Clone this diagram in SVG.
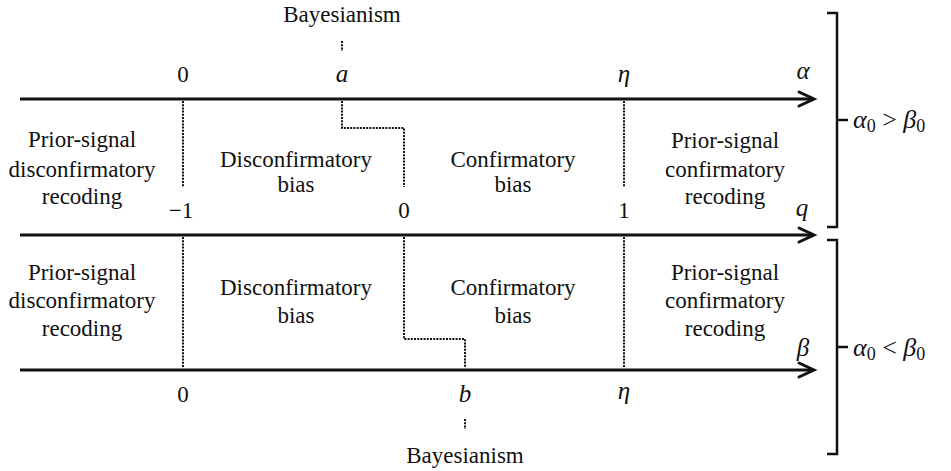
<svg xmlns="http://www.w3.org/2000/svg" width="951" height="471" viewBox="0 0 951 471">
  <defs>
    <style>
      text { font-family: "Liberation Serif", "DejaVu Serif", serif; font-size: 23px; fill: #111; text-anchor: middle; }
      .m { font-style: italic; font-size: 25px; }
      .axis { stroke: #111; stroke-width: 3; fill: none; }
      .head { stroke: #111; stroke-width: 3; fill: none; stroke-linecap: round; stroke-linejoin: miter; }
      .dot { stroke: #111; stroke-width: 2; fill: none; stroke-dasharray: 2 1.2; }
      .brace { stroke: #111; stroke-width: 2.5; fill: none; }
      .cond { font-size: 26px; text-anchor: start; }
      .sub { font-size: 18px; font-style: normal; }
    </style>
  </defs>

  <!-- axes with open arrowheads -->
  <g id="connectors">
    <line class="axis" x1="20" y1="99" x2="813" y2="99"/>
    <polyline class="head" points="799,92 814,99 799,106"/>
    <line class="axis" x1="20" y1="235" x2="813" y2="235"/>
    <polyline class="head" points="799,228 814,235 799,242"/>
    <line class="axis" x1="20" y1="370" x2="813" y2="370"/>
    <polyline class="head" points="799,363 814,370 799,377"/>

    <!-- upper band boundaries -->
    <line class="dot" x1="183" y1="101" x2="183" y2="187"/>
    <polyline class="dot" points="342,101 342,128 404,128 404,187"/>
    <line class="dot" x1="624" y1="101" x2="624" y2="187"/>
    <line class="dot" x1="342" y1="41" x2="342" y2="51"/>

    <!-- lower band boundaries -->
    <line class="dot" x1="183" y1="237" x2="183" y2="368"/>
    <polyline class="dot" points="404,237 404,339 465,339 465,368"/>
    <line class="dot" x1="624" y1="237" x2="624" y2="368"/>
    <line class="dot" x1="465" y1="419" x2="465" y2="429"/>

    <!-- right brackets -->
    <polyline class="brace" points="827,13 837,13 837,227 827,227"/>
    <line class="brace" x1="837" y1="120" x2="848" y2="120"/>
    <polyline class="brace" points="827,240 837,240 837,454 827,454"/>
    <line class="brace" x1="837" y1="347" x2="848" y2="347"/>
  </g>

  <!-- tick labels -->
  <g id="top-axis-labels">
    <text x="342" y="22">Bayesianism</text>
    <text x="183" y="82">0</text>
    <text class="m" x="342" y="82">a</text>
    <text class="m" x="624" y="82">η</text>
    <text class="m" x="803" y="79">α</text>
  </g>
  <g id="mid-axis-labels">
    <text x="181" y="218">−1</text>
    <text x="404" y="218">0</text>
    <text x="624" y="218">1</text>
    <text class="m" x="802" y="216">q</text>
  </g>
  <g id="bottom-axis-labels">
    <text class="m" x="803" y="356">β</text>
    <text x="183" y="402">0</text>
    <text class="m" x="465" y="402">b</text>
    <text class="m" x="624" y="399">η</text>
    <text x="465" y="463">Bayesianism</text>
  </g>

  <!-- regions, upper band -->
  <g id="upper-prior-disconfirmatory">
    <text x="82" y="147">Prior-signal</text>
    <text x="82" y="177">disconfirmatory</text>
    <text x="82" y="204">recoding</text>
  </g>
  <g id="upper-disconfirmatory">
    <text x="296" y="167">Disconfirmatory</text>
    <text x="296" y="192">bias</text>
  </g>
  <g id="upper-confirmatory">
    <text x="513" y="167">Confirmatory</text>
    <text x="513" y="192">bias</text>
  </g>
  <g id="upper-prior-confirmatory">
    <text x="725" y="148">Prior-signal</text>
    <text x="725" y="177">confirmatory</text>
    <text x="725" y="204">recoding</text>
  </g>

  <!-- regions, lower band -->
  <g id="lower-prior-disconfirmatory">
    <text x="82" y="280">Prior-signal</text>
    <text x="82" y="308">disconfirmatory</text>
    <text x="82" y="336">recoding</text>
  </g>
  <g id="lower-disconfirmatory">
    <text x="296" y="295">Disconfirmatory</text>
    <text x="296" y="323">bias</text>
  </g>
  <g id="lower-confirmatory">
    <text x="513" y="295">Confirmatory</text>
    <text x="513" y="323">bias</text>
  </g>
  <g id="lower-prior-confirmatory">
    <text x="725" y="280">Prior-signal</text>
    <text x="725" y="308">confirmatory</text>
    <text x="725" y="336">recoding</text>
  </g>

  <!-- bracket conditions -->
  <g id="cond-upper">
    <text class="cond" x="853" y="128"><tspan font-style="italic">α</tspan><tspan class="sub" dy="4">0</tspan><tspan dy="-4"> &gt; </tspan><tspan font-style="italic">β</tspan><tspan class="sub" dy="4">0</tspan></text>
  </g>
  <g id="cond-lower">
    <text class="cond" x="853" y="356"><tspan font-style="italic">α</tspan><tspan class="sub" dy="4">0</tspan><tspan dy="-4"> &lt; </tspan><tspan font-style="italic">β</tspan><tspan class="sub" dy="4">0</tspan></text>
  </g>
</svg>
